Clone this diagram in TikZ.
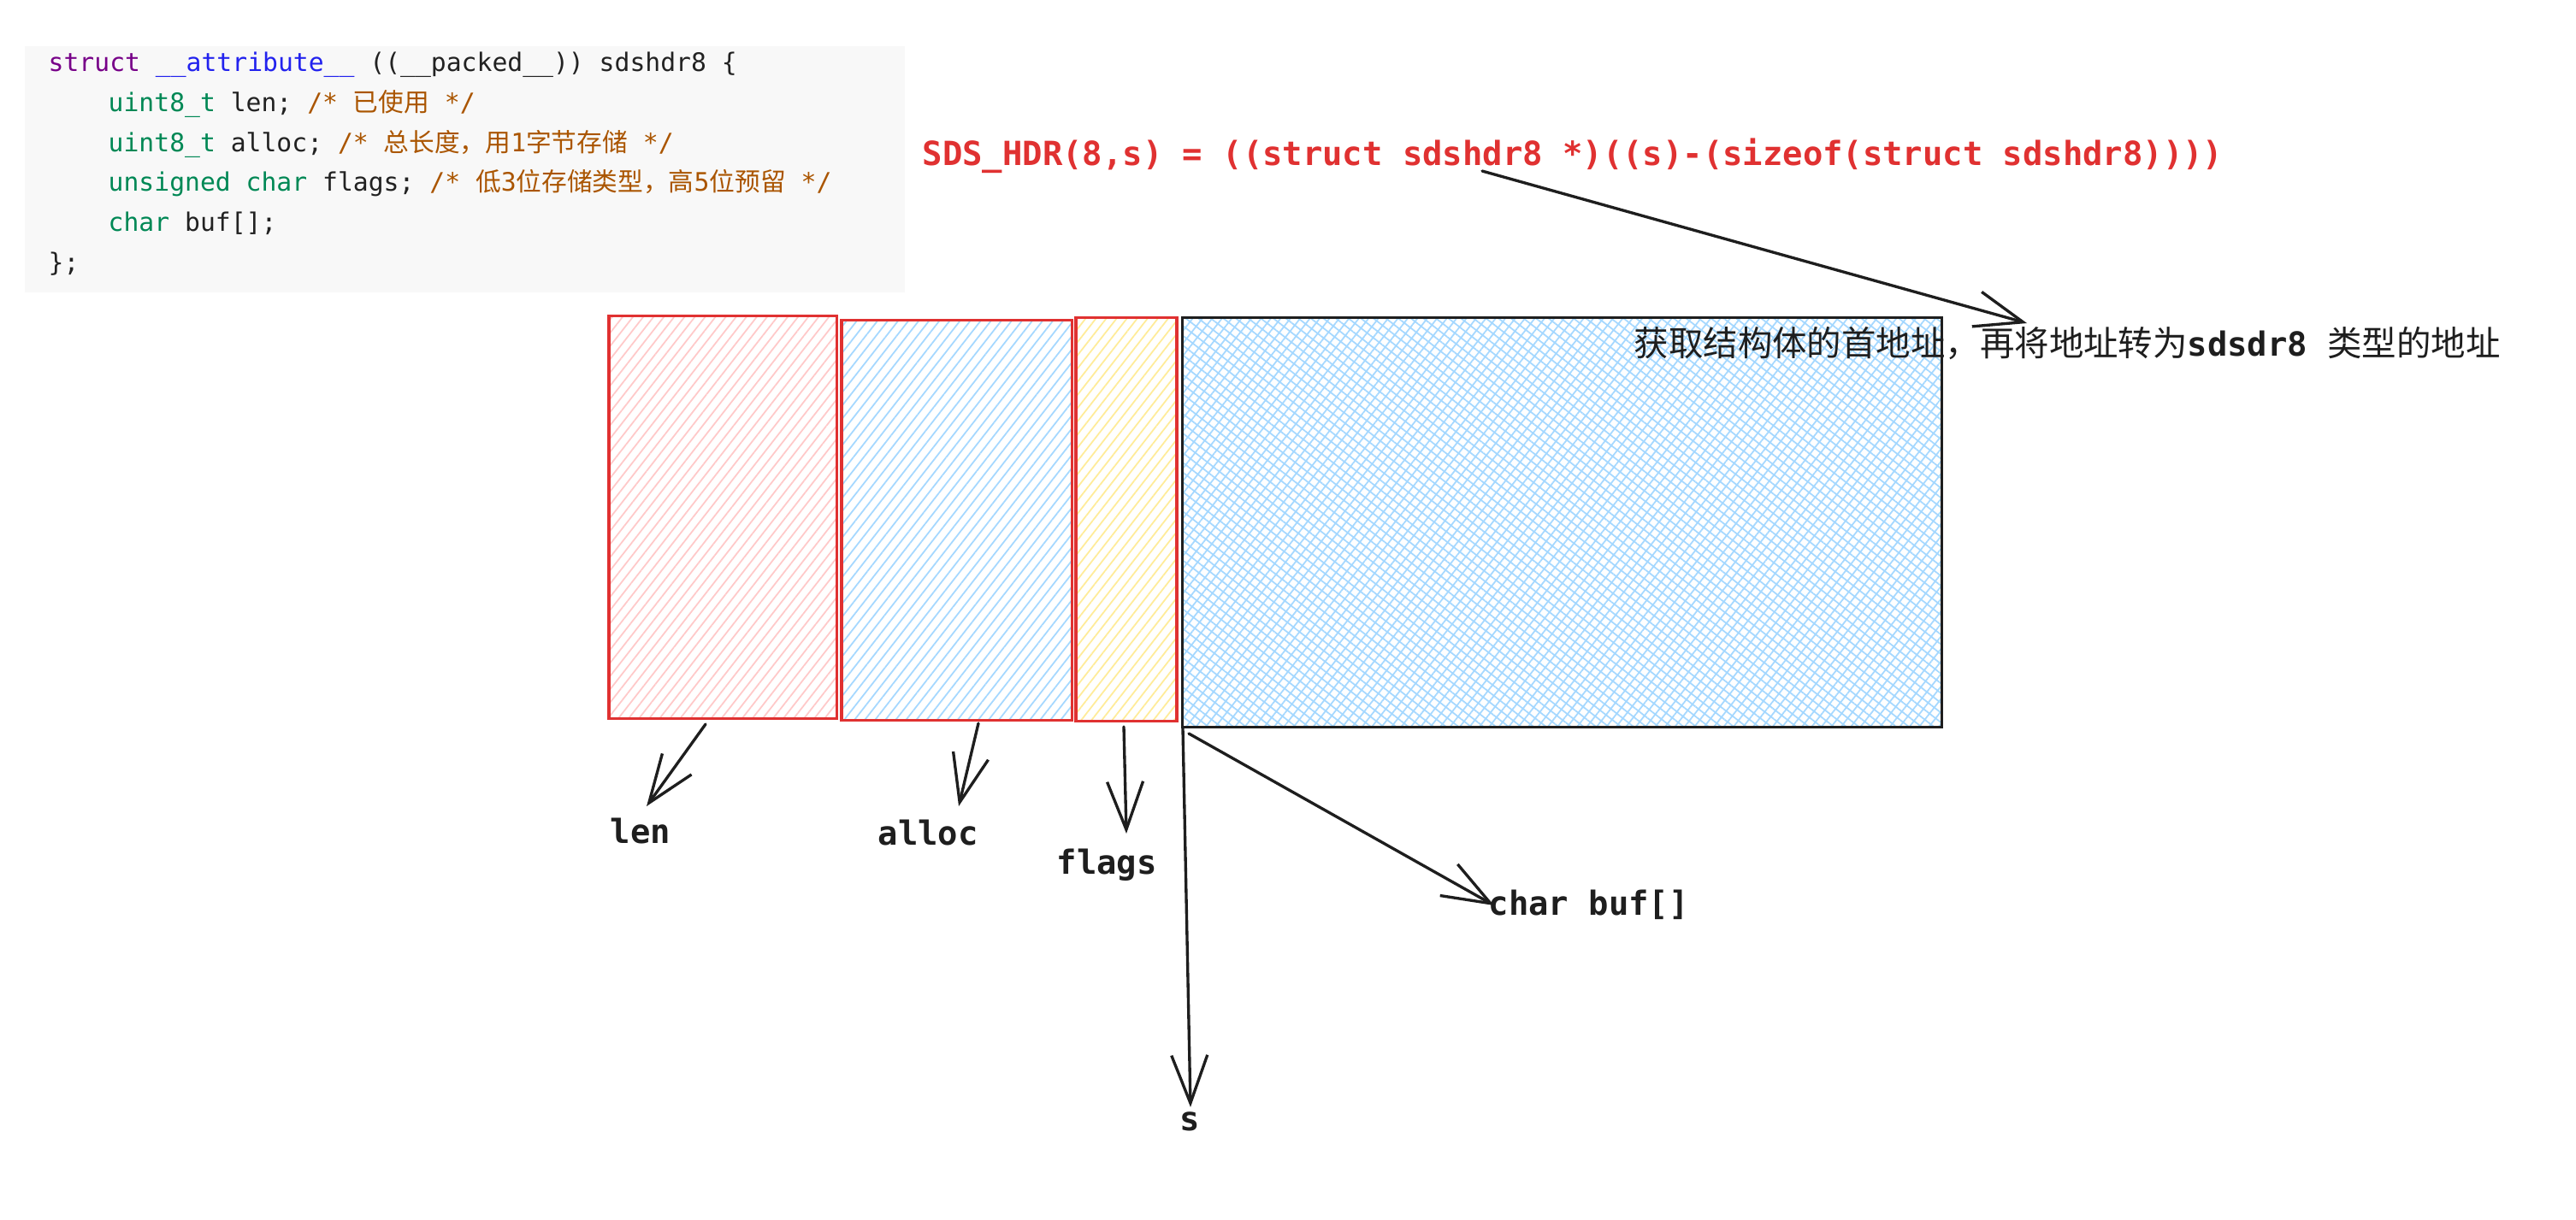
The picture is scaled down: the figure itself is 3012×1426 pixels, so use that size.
\documentclass[tikz,border=0pt]{standalone}
\usepackage{fontspec}
\setmonofont{DejaVu Sans Mono}
\newfontfamily\cjkf{Noto Sans CJK SC}
\usetikzlibrary{arrows.meta,patterns.meta}
\definecolor{codebg}{HTML}{F8F8F8}
\definecolor{kwpurple}{HTML}{770088}
\definecolor{kwblue}{HTML}{2222EE}
\definecolor{typegreen}{HTML}{008855}
\definecolor{cmtorange}{HTML}{AA5500}
\definecolor{codetext}{HTML}{222222}
\definecolor{exred}{HTML}{E03131}
\definecolor{exblack}{HTML}{1E1E1E}
\definecolor{hred}{HTML}{FFC9C9}
\definecolor{hblue}{HTML}{A5D8FF}
\definecolor{hyellow}{HTML}{FFEC99}
\newcommand\zh[1]{{\cjkf #1}}
\newcommand\kp[1]{\textcolor{kwpurple}{#1}}
\newcommand\kb[1]{\textcolor{kwblue}{#1}}
\newcommand\ty[1]{\textcolor{typegreen}{#1}}
\newcommand\cm[1]{\textcolor{cmtorange}{#1}}
\begin{document}
\begin{tikzpicture}[x=0.01cm,y=-0.01cm,
  codeline/.style={anchor=base west,inner sep=0pt,text=codetext,
    font=\ttfamily\fontsize{8.45pt}{10pt}\selectfont},
  exlabel/.style={anchor=base west,inner sep=0pt,text=exblack,
    font=\ttfamily\bfseries\fontsize{11.05pt}{13pt}\selectfont},
  formula/.style={anchor=base west,inner sep=0pt,text=exred,
    font=\ttfamily\bfseries\fontsize{11.05pt}{13pt}\selectfont},
  membox/.style={rectangle,inner sep=0pt,outer sep=0pt,line width=0.9pt},
  lenbox/.style={membox,draw=exred,pattern={Lines[angle=52,distance=0.095cm,line width=0.5pt]},pattern color=hred},
  allocbox/.style={membox,draw=exred,pattern={Lines[angle=52,distance=0.095cm,line width=0.5pt]},pattern color=hblue},
  flagsbox/.style={membox,draw=exred,pattern={Lines[angle=52,distance=0.095cm,line width=0.5pt]},pattern color=hyellow},
  bufbox/.style={membox,draw=exblack,pattern={Hatch[angle=52,distance=0.09cm,line width=0.5pt]},pattern color=hblue},
  arr/.style={draw=exblack,line width=0.95pt,line cap=round,
    -{Straight Barb[length=0.56cm,width=0.42cm,line width=0.95pt]}}]
\useasboundingbox (0,0) rectangle (3012,1426);
\fill[white] (0,0) rectangle (3012,1426);
% code block
\fill[codebg] (29,54) rectangle (1058,342);
\node[codeline] (c1) at (56,83) {\kp{struct} \kb{\_\_attribute\_\_} ((\_\_packed\_\_)) sdshdr8 \{};
\node[codeline] (c2) at (126,130) {\ty{uint8\_t} len; \cm{/* \zh{已使用} */}};
\node[codeline] (c3) at (126,177) {\ty{uint8\_t} alloc; \cm{/* \zh{总长度，用}1\zh{字节存储} */}};
\node[codeline] (c4) at (126,223) {\ty{unsigned} \ty{char} flags; \cm{/* \zh{低}3\zh{位存储类型，高}5\zh{位预留} */}};
\node[codeline] (c5) at (126,270) {\ty{char} buf[];};
\node[codeline] (c6) at (56,317) {\};};
% formula
\node[formula] (hdr) at (1078,193) {SDS\_HDR(8,s) = ((struct sdshdr8 *)((s)-(sizeof(struct sdshdr8))))};
% boxes
\node[lenbox,minimum width=2.66cm,minimum height=4.70cm] (len) at (845,605) {};
\node[allocbox,minimum width=2.69cm,minimum height=4.67cm] (alloc) at (1118.5,608.5) {};
\node[flagsbox,minimum width=1.18cm,minimum height=4.71cm] (flags) at (1317,607.5) {};
\node[bufbox,minimum width=8.87cm,minimum height=4.78cm] (buf) at (1826.5,611) {};
% note
\node[exlabel] (note) at (1910,416)
  {{\mdseries\fontsize{11.5pt}{13pt}\selectfont\zh{获取结构体的首地址，再将地址转为}}sdsdr8 {\mdseries\fontsize{11.5pt}{13pt}\selectfont\zh{类型的地址}}};
% labels
\node[exlabel] (llen) at (713,986) {len};
\node[exlabel] (lalloc) at (1026,988) {alloc};
\node[exlabel] (lflags) at (1235,1022) {flags};
\node[exlabel] (ls) at (1379,1322) {s};
\node[exlabel] (lbuf) at (1740,1070) {char buf[]};
% arrow end points
\coordinate (a1s) at (825,847);  \coordinate (a1e) at (756,943);
\coordinate (a2s) at (1144,846); \coordinate (a2e) at (1121,943);
\coordinate (a3s) at (1314,850); \coordinate (a3e) at (1317,975);
\coordinate (a4s) at (1383,852); \coordinate (a4e) at (1392,1295);
\coordinate (a5s) at (1390,858); \coordinate (a5e) at (1747,1059);
\coordinate (a6s) at (1733,200); \coordinate (a6e) at (2370,378);
\draw[arr] (a1s) -- (a1e);
\draw[arr] (a2s) -- (a2e);
\draw[arr] (a3s) -- (a3e);
\draw[arr] (a4s) -- (a4e);
\draw[arr] (a5s) -- (a5e);
\draw[arr] (a6s) -- (a6e);
\end{tikzpicture}
\end{document}
